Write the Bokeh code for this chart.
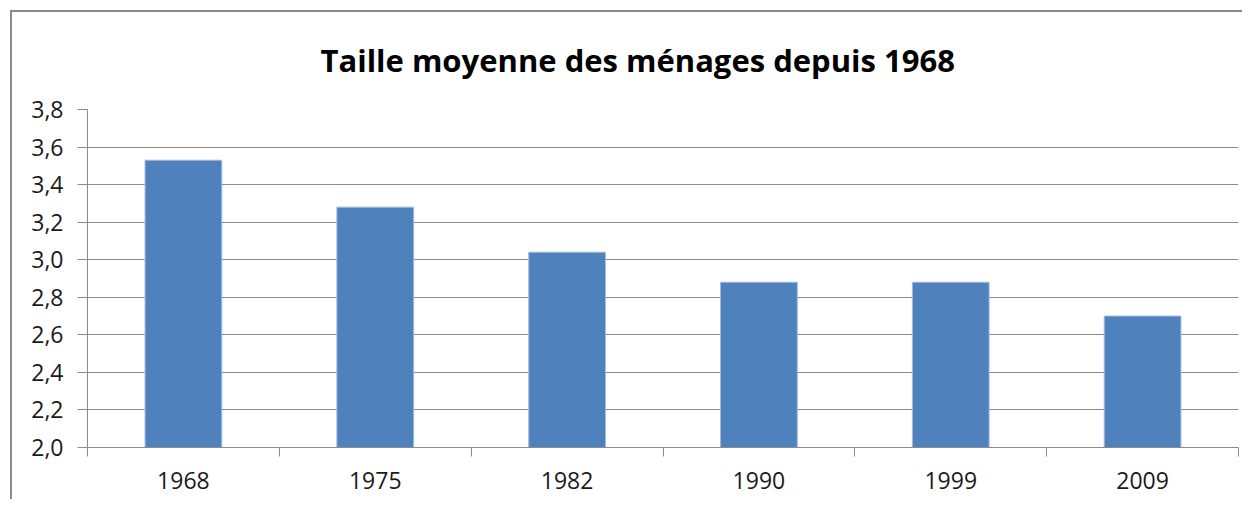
from bokeh.plotting import figure
from bokeh.models import Range1d, FixedTicker, CustomJSTickFormatter, Title
from bokeh.embed import file_html
from bokeh.resources import INLINE

# Data
years = ["1968", "1975", "1982", "1990", "1999", "2009"]
sizes = [3.53, 3.28, 3.04, 2.88, 2.88, 2.70]
y_ticks = [2.0, 2.2, 2.4, 2.6, 2.8, 3.0, 3.2, 3.4, 3.6, 3.8]
title_text = "Taille moyenne des ménages depuis 1968"

FONT = "Open Sans"
GRAY = "#8c8c8c"

n = len(years)
centers = [i + 0.5 for i in range(n)]
bounds = [float(i) for i in range(n + 1)]

p = figure(
    width=1232, height=489,
    x_range=Range1d(0, n), y_range=Range1d(y_ticks[0], y_ticks[-1]),
    output_backend="svg", toolbar_location=None,
    min_border_left=75, min_border_right=6, min_border_top=0, min_border_bottom=54,
)
p.styles = {"border-left": "2px solid #8a8a8a", "border-top": "2px solid #8a8a8a",
            "margin-left": "10px", "margin-top": "10px"}
p.outline_line_color = None
p.background_fill_color = "white"
p.border_fill_color = "white"

p.vbar(x=centers, top=sizes, bottom=0, width=0.4,
       fill_color="#4F81BD", line_color="#9dbbe0", line_width=1)

# Y axis
p.yaxis.ticker = FixedTicker(ticks=y_ticks, minor_ticks=[])
p.yaxis.formatter = CustomJSTickFormatter(code="return tick.toFixed(1).replace('.', ',');")
p.yaxis.axis_line_color = GRAY
p.yaxis.major_tick_line_color = GRAY
p.yaxis.major_tick_out = 10
p.yaxis.major_tick_in = 0
p.yaxis.minor_tick_line_color = None
p.yaxis.major_label_standoff = 14
p.yaxis.major_label_text_font = FONT
p.yaxis.major_label_text_font_size = "23px"
p.yaxis.major_label_text_color = "#1a1a1a"

# X axis
p.xaxis.ticker = FixedTicker(ticks=centers, minor_ticks=bounds)
p.xaxis.major_label_overrides = {c: y for c, y in zip(centers, years)}
p.xaxis.axis_line_color = GRAY
p.xaxis.major_tick_line_color = None
p.xaxis.major_tick_out = 0
p.xaxis.major_tick_in = 0
p.xaxis.minor_tick_line_color = GRAY
p.xaxis.minor_tick_out = 9
p.xaxis.minor_tick_in = 0
p.xaxis.major_label_standoff = 15
p.xaxis.major_label_text_font = FONT
p.xaxis.major_label_text_font_size = "23px"
p.xaxis.major_label_text_color = "#1a1a1a"

# Grid
p.xgrid.visible = False
p.ygrid.ticker = FixedTicker(ticks=y_ticks)
p.ygrid.grid_line_color = GRAY
p.ygrid.grid_line_width = 1

# Title
p.add_layout(Title(text=title_text, align="left", offset=233, standoff=53,
                   vertical_align="top",
                   text_font=FONT, text_font_style="bold", text_font_size="31px",
                   text_color="#000000"), "above")

open("out.html", "w").write(file_html(p, INLINE))
